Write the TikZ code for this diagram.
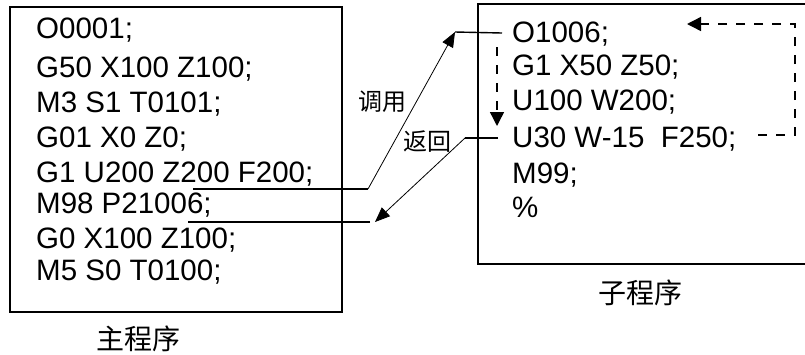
\documentclass[tikz,border=0pt]{standalone}
\usepackage{fontspec}
\setmainfont{Liberation Sans}
\newfontfamily\cjk{Noto Sans CJK SC}
\usetikzlibrary{arrows.meta}

\begin{document}
\begin{tikzpicture}[
    x=1pt,
    y=-1pt,
    frame/.style={
        draw,
        line width=1.6pt,
        inner sep=0pt,
        anchor=north west
    },
    code/.style={
        anchor=base west,
        inner sep=0pt,
        font=\fontsize{29.5}{34}\selectfont
    },
    title/.style={
        inner sep=0pt,
        font=\cjk\fontsize{28}{34}\selectfont
    },
    tag/.style={
        inner sep=0pt,
        font=\cjk\fontsize{24}{28}\selectfont
    },
    link/.style={line width=1.4pt},
    slant/.style={line width=0.8pt, -{Triangle[length=15pt,width=12pt]}},
    loopline/.style={line width=1.4pt, dash pattern=on 9pt off 9pt, -{Triangle[length=14pt,width=14pt]}}
]

\clip (0,0) rectangle (805,354);

\node[frame, minimum width=332pt, minimum height=305pt] (mainbox) at (9,6) {};
\node[frame, minimum width=340pt, minimum height=260pt] (subbox) at (477,3) {};

\node[code] (m1) at (36,38) {O0001;};
\node[code] (m2) at (36,77) {G50 X100 Z100;};
\node[code] (m3) at (36,112) {M3 S1 T0101;};
\node[code] (m4) at (36,147) {G01 X0 Z0;};
\node[code] (m5) at (36,182) {G1 U200 Z200 F200;};
\node[code] (m6) at (36,213) {M98 P21006;};
\node[code] (m7) at (36,248) {G0 X100 Z100;};
\node[code] (m8) at (36,280) {M5 S0 T0100;};

\node[code] (s1) at (512,42) {O1006;};
\node[code] (s2) at (512,75) {G1 X50 Z50;};
\node[code] (s3) at (512,110) {U100 W200;};
\node[code] (s4) at (512,147) {U30 W-15 \ F250;};
\node[code] (s5) at (512,183) {M99;};
\node[code] (s6) at (512,217) {\%};

\node[title] (maintitle) at (138,339) {主程序};
\node[title] (subtitle) at (640,293) {子程序};
\node[tag] (calltag) at (382,102) {调用};
\node[tag] (rettag) at (427,142) {返回};

\coordinate (callA) at (193,189);
\coordinate (callB) at (368,189);
\coordinate (callC) at (455,32);
\coordinate (callD) at (502,33);
\coordinate (retA) at (498,138);
\coordinate (retB) at (465,138);
\coordinate (retC) at (375,222);
\coordinate (retD) at (370,222);
\coordinate (retE) at (188,222);

\draw[link] (callA) -- (callB);
\draw[slant] (callB) -- (callC);
\draw[link] (callC) -- (callD);
\draw[link] (retA) -- (retB);
\draw[slant] (retB) -- (retC);
\draw[link] (retD) -- (retE);

\coordinate (loopA) at (758,135);
\coordinate (loopB) at (795,135);
\coordinate (loopC) at (795,24);
\coordinate (loopD) at (687,24);
\coordinate (downA) at (497,47);
\coordinate (downB) at (497,126);

\draw[loopline] (loopA) -- (loopB) -- (loopC) -- (loopD);
\draw[loopline] (downA) -- (downB);

\end{tikzpicture}
\end{document}
